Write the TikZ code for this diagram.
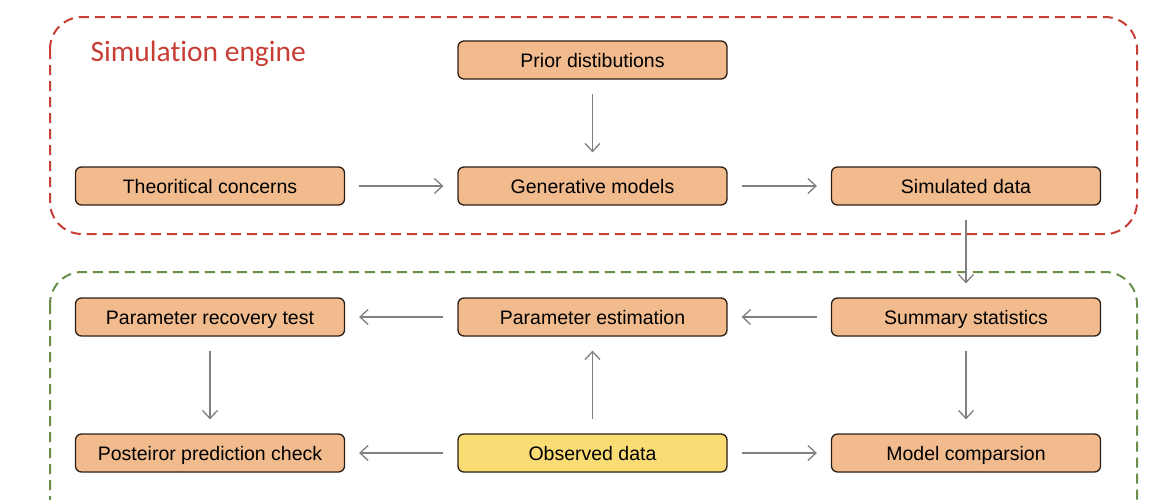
\documentclass[tikz,border=0pt]{standalone}
\usepackage{fontspec}
\setmainfont{Liberation Sans}
\newfontfamily\titlefont[Ligatures=NoCommon]{Carlito}
\usetikzlibrary{arrows.meta}
\definecolor{boxfill}{RGB}{241,187,142}
\definecolor{obsfill}{RGB}{249,220,115}
\definecolor{boxline}{RGB}{45,30,20}
\definecolor{reddash}{RGB}{200,62,52}
\definecolor{greendash}{RGB}{104,142,74}
\definecolor{arrowgrey}{RGB}{128,128,128}
\tikzset{
  stepbox/.style={draw=boxline, line width=1.3pt, rounded corners=6pt, fill=boxfill,
    minimum width=269pt, minimum height=38pt, inner sep=0pt, text height=14pt, text depth=0pt,
    font=\fontsize{19.5}{22}\selectfont},
  obsbox/.style={stepbox, fill=obsfill},
  flow/.style={draw=arrowgrey, line width=1.3pt, -{Straight Barb[length=8pt,width=15pt]}, shorten >=14pt, shorten <=14pt},
  frame/.style={dashed, dash pattern=on 10pt off 6pt, line width=2pt, rounded corners=32pt}
}
\begin{document}
\begin{tikzpicture}[x=1pt,y=-1pt]
\useasboundingbox (0,0) rectangle (1174,499);
\clip (0,0) rectangle (1174,499);
\fill[white] (0,0) rectangle (1174,499);
\draw[frame, draw=reddash] (50,17) rectangle (1137,234);
\draw[frame, draw=greendash] (50,272) rectangle (1137,560);
\node[anchor=base west, text=reddash, font=\titlefont\fontsize{29.5}{31}\selectfont] (title) at (87,61) {Simulation engine};
\node[stepbox] (prior) at (592.5,60) {Prior distibutions};
\node[stepbox] (theo) at (210,186) {Theoritical concerns};
\node[stepbox] (gen) at (592.5,186) {Generative models};
\node[stepbox] (sim) at (966,186) {Simulated data};
\node[stepbox] (rec) at (210,317) {Parameter recovery test};
\node[stepbox] (est) at (592.5,317) {Parameter estimation};
\node[stepbox] (sum) at (966,317) {Summary statistics};
\node[stepbox] (post) at (210,453) {Posteiror prediction check};
\node[obsbox] (obs) at (592.5,453) {Observed data};
\node[stepbox] (comp) at (966,453) {Model comparsion};
\draw[flow] (prior) -- (gen);
\draw[flow] (theo) -- (gen);
\draw[flow] (gen) -- (sim);
\draw[flow] (sim) -- (sum);
\draw[flow] (sum) -- (est);
\draw[flow] (est) -- (rec);
\draw[flow] (rec) -- (post);
\draw[flow] (obs) -- (est);
\draw[flow] (obs) -- (post);
\draw[flow] (obs) -- (comp);
\draw[flow] (sum) -- (comp);
\end{tikzpicture}
\end{document}
